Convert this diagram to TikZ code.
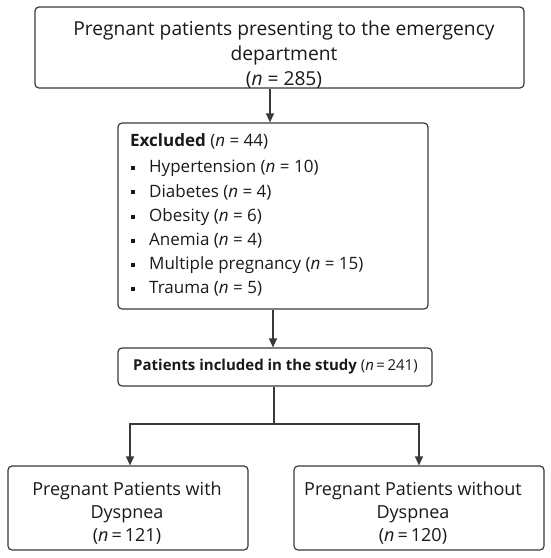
\documentclass[tikz,border=0pt]{standalone}
\usepackage{fontspec}
\setmainfont{Open Sans}
\usetikzlibrary{arrows.meta,positioning,calc}
\definecolor{linec}{HTML}{3A3A3A}
\definecolor{txtc}{HTML}{1A1A1A}
\begin{document}
\begin{tikzpicture}[x=1pt,y=-1pt,
  box/.style={draw=linec,line width=1.2pt,rounded corners=4pt,inner sep=0pt},
  txt/.style={text=txtc,inner sep=0pt,align=center},
  arr/.style={draw=linec,line width=1.2pt,-{Triangle[width=8pt,length=9pt]}},
  conn/.style={draw=linec,line width=1.2pt},
  item/.style={text=txtc,inner sep=0pt,anchor=west,font=\fontsize{17}{18}\selectfont},
  bul/.style={fill=txtc,inner sep=0pt,minimum size=3.6pt}]
\useasboundingbox (0,0) rectangle (550,558);
\fill[white] (0,0) rectangle (550,558);
% boxes
\node[box,minimum width=489pt,minimum height=81pt] (top) at (279.5,47.5) {};
\node[box,minimum width=310pt,minimum height=186pt] (excl) at (273,216) {};
\node[box,minimum width=314pt,minimum height=38pt] (incl) at (275,367) {};
\node[box,minimum width=240pt,minimum height=84pt] (left) at (128,508) {};
\node[box,minimum width=250pt,minimum height=84pt] (right) at (419,508) {};
% texts
\node[txt,font=\fontsize{19.2}{25}\selectfont] (toptext) at (284,54.5)
  {Pregnant patients presenting to the emergency\\department\\(\textit{n} = 285)};
\node[item,font=\fontsize{17}{18}\selectfont\bfseries] (exhead) at (130,141) {Excluded \mdseries(\textit{n} = 44)};
\node[bul] (b1) at (133,168) {};
\node[item] (i1) at (149,168) {Hypertension (\textit{n} = 10)};
\node[bul] (b2) at (133,192) {};
\node[item] (i2) at (149,192) {Diabetes (\textit{n} = 4)};
\node[bul] (b3) at (133,217) {};
\node[item] (i3) at (149,217) {Obesity (\textit{n} = 6)};
\node[bul] (b4) at (133,241) {};
\node[item] (i4) at (149,241) {Anemia (\textit{n} = 4)};
\node[bul] (b5) at (133,265) {};
\node[item] (i5) at (149,265) {Multiple pregnancy (\textit{n} = 15)};
\node[bul] (b6) at (133,289) {};
\node[item] (i6) at (149,289) {Trauma (\textit{n} = 5)};
\node[item,font=\fontsize{15}{18}\selectfont\bfseries] (incltext) at (133,367)
  {Patients included in the study \mdseries(\textit{n}\,=\,241)};
\node[txt,font=\fontsize{18}{23}\selectfont] (lefttext) at (127,513)
  {Pregnant Patients with\\Dyspnea\\(\textit{n}\,=\,121)};
\node[txt,font=\fontsize{18}{23}\selectfont] (righttext) at (413,513)
  {Pregnant Patients without\\Dyspnea\\(\textit{n}\,=\,120)};
% connectors
\draw[arr] ([xshift=-9.5pt]top.south) -- ([xshift=-3pt]excl.north);
\draw[arr] (excl.south) -- (excl.south |- incl.north);
\coordinate (br) at (274,424);
\draw[conn] ([xshift=-1pt]incl.south) -- (br);
\draw[arr] (br) -| ([xshift=2pt]left.north);
\draw[arr] (br) -| (right.north);
\end{tikzpicture}
\end{document}
